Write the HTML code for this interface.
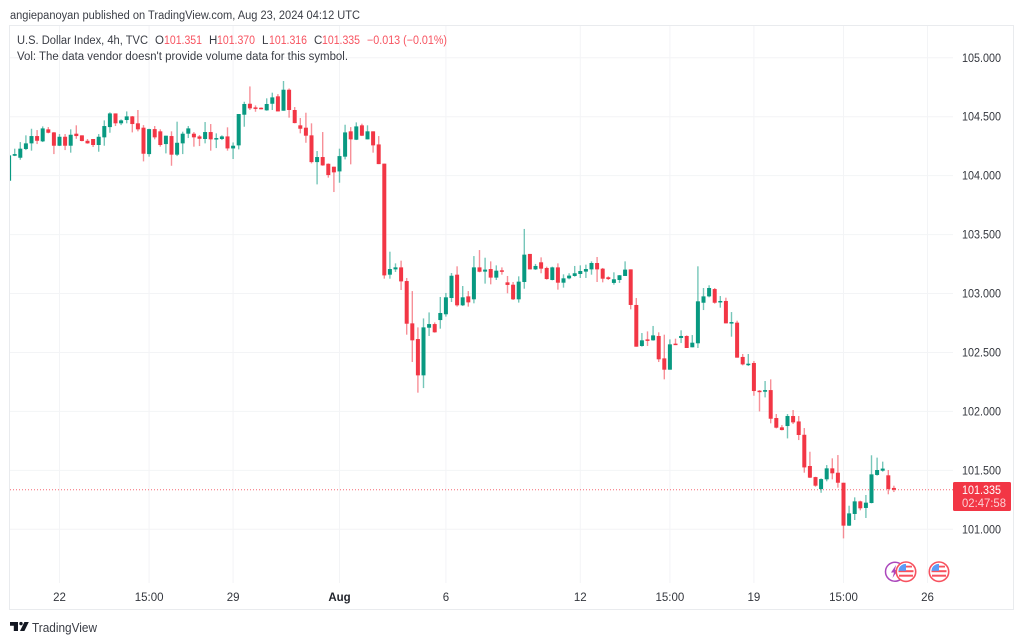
<!DOCTYPE html>
<html lang="en">
<head>
<meta charset="utf-8">
<title>U.S. Dollar Index 4h chart</title>
<style>
html,body{margin:0;padding:0;background:#fff;width:1024px;height:643px;overflow:hidden}
svg{display:block;font-family:"Liberation Sans",sans-serif}
</style>
</head>
<body>
<svg id="chart" xmlns="http://www.w3.org/2000/svg" width="1024" height="643" viewBox="0 0 1024 643">
  <defs><clipPath id="pane-clip"><rect x="10" y="26" width="943" height="557"/></clipPath></defs>
  <text x="10" y="19" font-size="11.5" fill="#3a3d45" textLength="350" lengthAdjust="spacingAndGlyphs">angiepanoyan published on TradingView.com, Aug 23, 2024 04:12 UTC</text>
  <rect x="9.5" y="25.5" width="1004" height="584" fill="none" stroke="#e9ebee" stroke-width="1"/>
  <g id="grid"></g>
  <line id="price-line" x1="10" x2="953" stroke="#f23645" stroke-width="1" stroke-dasharray="1 2" opacity="0.75"/>
  <g id="candles" clip-path="url(#pane-clip)"></g>
  <g id="y-axis"></g>
  <g id="x-axis"></g>

  <g font-size="11.5">
    <text x="17" y="44" fill="#3a3d45" textLength="131" lengthAdjust="spacingAndGlyphs">U.S. Dollar Index, 4h, TVC</text>
    <text x="155" y="44" fill="#3a3d45">O</text>
    <text x="164" y="44" fill="#f7525f" textLength="38" lengthAdjust="spacingAndGlyphs">101.351</text>
    <text x="209" y="44" fill="#3a3d45">H</text>
    <text x="217" y="44" fill="#f7525f" textLength="38" lengthAdjust="spacingAndGlyphs">101.370</text>
    <text x="262" y="44" fill="#3a3d45">L</text>
    <text x="269" y="44" fill="#f7525f" textLength="38" lengthAdjust="spacingAndGlyphs">101.316</text>
    <text x="314" y="44" fill="#3a3d45">C</text>
    <text x="322" y="44" fill="#f7525f" textLength="38" lengthAdjust="spacingAndGlyphs">101.335</text>
    <text x="367" y="44" fill="#f7525f" textLength="80" lengthAdjust="spacingAndGlyphs">−0.013 (−0.01%)</text>
    <text x="17" y="60" fill="#3a3d45" textLength="331" lengthAdjust="spacingAndGlyphs">Vol: The data vendor doesn't provide volume data for this symbol.</text>
  </g>

  <g>
    <rect x="953" y="482" width="58" height="29" rx="1.5" fill="#f23645"/>
    <text x="962" y="494" font-size="11.5" fill="#ffffff" textLength="39" lengthAdjust="spacingAndGlyphs">101.335</text>
    <text x="962" y="507" font-size="11.5" fill="#fbd0d4" textLength="44" lengthAdjust="spacingAndGlyphs">02:47:58</text>
  </g>

  <g>
    <circle cx="895" cy="571.7" r="9.5" fill="#fff" stroke="#ab47bc" stroke-width="1.5"/>
    <path d="M896 565l-5 7.5h3l-1.5 5.5 5.5-8h-3z" fill="#ab47bc"/>
  </g>
  <g transform="translate(906,571.7)">
    <circle r="9.7" fill="#fff" stroke="#f7525f" stroke-width="1.6"/>
    <rect x="-7.5" y="-1.5" width="15" height="2" fill="#f7525f"/>
    <rect x="-7" y="3" width="14" height="2" fill="#f7525f"/>
    <path d="M-7-3.5a7.8 7.8 0 0 1 7-4.3V-0.8H-7.6z" fill="#5b9cf6"/>
    <rect x="0" y="-6" width="6" height="1.8" fill="#f7525f"/>
  </g>
  <g transform="translate(939,571.7)">
    <circle r="9.7" fill="#fff" stroke="#f7525f" stroke-width="1.6"/>
    <rect x="-7.5" y="-1.5" width="15" height="2" fill="#f7525f"/>
    <rect x="-7" y="3" width="14" height="2" fill="#f7525f"/>
    <path d="M-7-3.5a7.8 7.8 0 0 1 7-4.3V-0.8H-7.6z" fill="#5b9cf6"/>
    <rect x="0" y="-6" width="6" height="1.8" fill="#f7525f"/>
  </g>

  <g>
    <path d="M10 622h8v9h-4.2v-5.2H10zM20 631l4.4-9h4.4l-4.4 9z" fill="#131722"/>
    <circle cx="21" cy="623.6" r="1.7" fill="#131722"/>
    <text x="32" y="632" font-size="12.5" fill="#3a3d45" textLength="65" lengthAdjust="spacingAndGlyphs">TradingView</text>
  </g>
</svg>
<script>
const opens = [
103.957,104.169,104.152,104.226,104.274,104.336,104.291,104.393,104.367,104.254,
104.330,104.254,104.356,104.342,104.296,104.311,104.260,104.325,104.412,104.528,
104.444,104.472,104.503,104.444,104.407,104.183,104.395,104.376,104.268,104.336,
104.178,104.274,104.356,104.356,104.333,104.311,104.370,104.313,104.311,104.333,
104.231,104.257,104.517,104.610,104.579,104.576,104.554,104.610,104.673,104.551,
104.729,104.557,104.427,104.407,104.342,104.115,104.158,104.101,104.076,104.036,
104.161,104.376,104.305,104.427,104.308,104.376,104.265,104.102,103.160,103.205,
103.222,103.106,102.747,102.614,102.306,102.710,102.741,102.775,102.824,102.962,
103.160,102.900,102.976,102.951,103.222,103.186,103.208,103.135,103.197,103.095,
103.075,102.951,103.098,103.336,103.205,103.265,103.217,103.115,103.222,103.092,
103.129,103.149,103.166,103.186,103.205,103.259,103.211,103.138,103.090,103.115,
103.149,103.205,102.903,102.555,102.611,102.603,102.640,102.450,102.354,102.575,
102.623,102.640,102.544,102.578,102.922,102.976,103.038,102.931,102.937,102.747,
102.753,102.462,102.397,102.411,102.176,102.167,102.181,101.944,101.865,101.876,
101.961,101.915,101.802,101.537,101.443,101.341,101.424,101.517,101.480,101.395,
101.031,101.130,101.237,101.181,101.223,101.461,101.497,101.458,101.351];
const highs = [
104.172,104.229,104.285,104.342,104.398,104.387,104.418,104.412,104.370,104.353,
104.353,104.393,104.427,104.342,104.311,104.311,104.353,104.469,104.537,104.528,
104.477,104.545,104.506,104.557,104.429,104.398,104.421,104.393,104.339,104.376,
104.458,104.373,104.421,104.370,104.345,104.455,104.438,104.359,104.342,104.410,
104.282,104.523,104.627,104.757,104.596,104.579,104.656,104.704,104.692,104.803,
104.740,104.582,104.489,104.534,104.444,104.209,104.370,104.104,104.076,104.229,
104.432,104.412,104.452,104.441,104.427,104.376,104.336,104.102,103.355,103.256,
103.279,103.132,103.021,102.713,102.789,102.840,102.755,102.971,103.005,103.174,
103.231,103.064,103.021,103.318,103.369,103.304,103.273,103.239,103.222,103.149,
103.098,103.146,103.548,103.336,103.251,103.307,103.228,103.228,103.256,103.163,
103.172,103.234,103.239,103.245,103.273,103.310,103.217,103.146,103.180,103.157,
103.273,103.205,102.962,102.665,102.679,102.725,102.671,102.651,102.611,102.617,
102.688,102.645,102.648,103.231,103.047,103.070,103.047,102.979,102.965,102.843,
102.770,102.487,102.487,102.428,102.181,102.258,102.272,101.978,101.884,101.978,
102.012,101.961,101.859,101.658,101.446,101.432,101.545,101.602,101.630,101.395,
101.200,101.271,101.243,101.291,101.628,101.608,101.574,101.503,101.370];
const lows = [
103.957,104.166,104.135,104.217,104.212,104.268,104.285,104.359,104.183,104.251,
104.217,104.195,104.313,104.291,104.271,104.243,104.203,104.254,104.364,104.421,
104.429,104.444,104.367,104.376,104.121,104.161,104.308,104.246,104.189,104.084,
104.166,104.183,104.319,104.246,104.251,104.274,104.212,104.234,104.302,104.212,
104.141,104.223,104.415,104.557,104.542,104.562,104.551,104.557,104.545,104.551,
104.492,104.444,104.359,104.279,104.104,103.926,104.084,103.983,103.861,103.940,
104.138,104.096,104.302,104.336,104.308,104.195,104.098,103.126,103.126,103.183,
103.030,102.651,102.419,102.159,102.198,102.640,102.668,102.702,102.804,102.928,
102.889,102.894,102.889,102.917,103.180,103.084,103.078,103.115,103.160,103.002,
102.945,102.923,103.041,103.205,103.200,103.172,103.118,103.112,103.033,103.050,
103.121,103.143,103.132,103.132,103.160,103.098,103.095,103.115,103.075,103.090,
103.149,102.866,102.549,102.549,102.555,102.600,102.419,102.272,102.354,102.563,
102.580,102.538,102.544,102.538,102.860,102.968,102.914,102.880,102.747,102.634,
102.456,102.391,102.385,102.133,102.000,102.119,101.899,101.856,101.839,101.771,
101.893,101.757,101.480,101.435,101.361,101.310,101.407,101.424,101.353,100.923,
101.028,101.079,101.161,101.096,101.220,101.455,101.489,101.297,101.316];
const closes = [
104.172,104.183,104.229,104.274,104.336,104.296,104.401,104.364,104.254,104.330,
104.254,104.347,104.336,104.294,104.274,104.260,104.330,104.421,104.528,104.444,
104.469,104.503,104.438,104.393,104.186,104.395,104.325,104.260,104.339,104.178,
104.279,104.356,104.401,104.325,104.313,104.370,104.308,104.319,104.333,104.231,
104.254,104.523,104.608,104.571,104.568,104.565,104.608,104.664,104.545,104.729,
104.557,104.446,104.398,104.339,104.115,104.158,104.087,104.005,104.028,104.166,
104.367,104.308,104.418,104.339,104.376,104.257,104.098,103.154,103.208,103.222,
103.103,102.744,102.603,102.306,102.713,102.741,102.671,102.835,102.968,103.151,
102.900,102.968,102.925,103.222,103.185,103.203,103.135,103.194,103.186,103.073,
102.951,103.101,103.330,103.205,103.234,103.211,103.123,103.222,103.092,103.129,
103.152,103.172,103.191,103.208,103.259,103.205,103.126,103.123,103.121,103.155,
103.203,102.903,102.549,102.603,102.606,102.645,102.442,102.354,102.569,102.566,
102.640,102.538,102.583,102.934,102.976,103.047,102.922,102.937,102.747,102.758,
102.456,102.399,102.405,102.173,102.167,102.181,101.938,101.862,101.842,101.961,
101.907,101.800,101.525,101.438,101.370,101.426,101.517,101.475,101.395,101.031,
101.135,101.237,101.178,101.226,101.466,101.503,101.515,101.342,101.335];

const priceTicks = [105, 104.5, 104, 103.5, 103, 102.5, 102, 101.5, 101];
const priceTickLabels = ["105.000","104.500","104.000","103.500","103.000","102.500","102.000","101.500","101.000"];
const timeTickCandles = [9, 25, 40, 59, 78, 102, 118, 133, 149, 164];
const timeTickLabels = ["22","15:00","29","Aug","6","12","15:00","19","15:00","26"];
const lastPrice = 101.335;

const SVG_NS = 'http://www.w3.org/2000/svg';
const GREEN = '#089981';
const RED = '#f23645';
function xScale(i) { return 9.1 + 5.6 * i; }
function yScale(p) { return 529.3 - (p - 101) * 117.88; }
function make(tag, attrs, parent) {
  const el = document.createElementNS(SVG_NS, tag);
  for (const k in attrs) el.setAttribute(k, attrs[k]);
  parent.appendChild(el);
  return el;
}
const gridG = document.getElementById('grid');
const candleG = document.getElementById('candles');
const yAxisG = document.getElementById('y-axis');
const xAxisG = document.getElementById('x-axis');

priceTicks.forEach(function (p, i) {
  const gl = make('line', { x1: 10, x2: 953, y1: yScale(p), y2: yScale(p), stroke: '#f3f4f6', 'stroke-width': 1 }, gridG);
  
  
  const t = make('text', { x: 962, y: yScale(p) + 4, 'font-size': 11.5, fill: '#33363d', textLength: 39, lengthAdjust: 'spacingAndGlyphs' }, yAxisG);
  
  
  t.textContent = priceTickLabels[i];
});

timeTickCandles.forEach(function (c, i) {
  const x = xScale(c);
  const gl = make('line', { x1: x, x2: x, y1: 26, y2: 583, stroke: '#f3f4f6', 'stroke-width': 1 }, gridG);
  
  
  const bold = timeTickLabels[i] === 'Aug';
  const t = make('text', { x: x, y: 601, 'font-size': 11.5, fill: bold ? '#22252c' : '#33363d', 'text-anchor': 'middle', 'font-weight': bold ? 'bold' : 'normal' }, xAxisG);
  
  
  t.textContent = timeTickLabels[i];
});

const priceLine = document.getElementById('price-line');
priceLine.setAttribute('y1', yScale(lastPrice));
priceLine.setAttribute('y2', yScale(lastPrice));

opens.forEach(function (o, i) {
  const c = closes[i];
  const color = c >= o ? GREEN : RED;
  const x = xScale(i);
  const wick = make('line', { x1: x, x2: x, y1: yScale(highs[i]), y2: yScale(lows[i]), stroke: color, 'stroke-width': 1.4, opacity: 0.55 }, candleG);
  
  
  const top = yScale(Math.max(o, c));
  const h = Math.max(1.5, yScale(Math.min(o, c)) - top);
  const body = make('rect', { x: x - 2, y: top, width: 4, height: h, fill: color }, candleG);
  
  
});
</script>
</body>
</html>
